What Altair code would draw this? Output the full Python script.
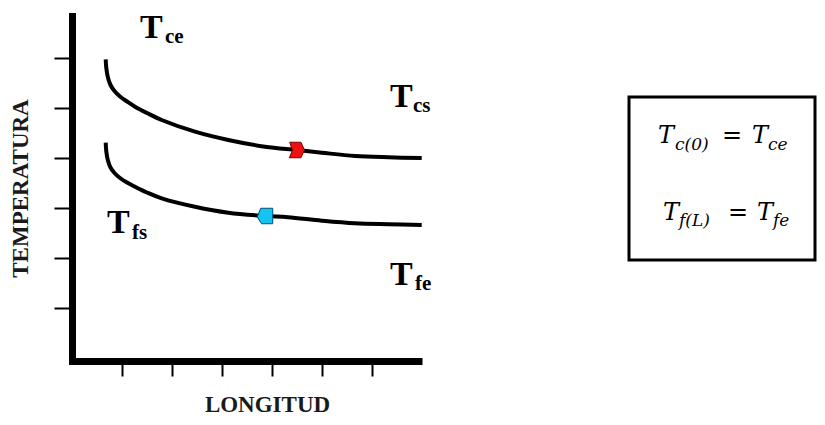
import altair as alt
import pandas as pd

# ---- data ----
x_caliente = [0.674, 0.686, 0.716, 0.77, 0.85, 0.96, 1.10, 1.26, 1.50, 1.794, 2.46, 3.126, 3.86, 4.494, 4.994, 5.66, 6.326, 6.994]
t_caliente = [5.974, 5.80, 5.62, 5.46, 5.34, 5.23, 5.13, 5.026, 4.90, 4.76, 4.526, 4.36, 4.226, 4.16, 4.106, 4.04, 4.014, 4.0]
x_frio = [0.674, 0.686, 0.716, 0.77, 0.85, 0.96, 1.10, 1.26, 1.50, 1.794, 2.46, 3.126, 3.86, 4.32, 4.994, 5.66, 6.326, 6.994]
t_frio = [4.306, 4.13, 3.96, 3.81, 3.70, 3.60, 3.51, 3.426, 3.31, 3.194, 3.026, 2.906, 2.84, 2.814, 2.746, 2.694, 2.674, 2.66]

marker_series = ["caliente", "frio"]
marker_x = [4.494, 3.86]
marker_y = [4.16, 2.84]

label_main = ["T", "T", "T", "T"]
label_sub = ["ce", "cs", "fs", "fe"]
label_x = [1.36, 6.36, 0.70, 6.36]
label_y = [6.40, 5.02, 2.50, 1.46]
sub_x = [1.86, 6.82, 1.20, 6.86]
sub_y = [6.30, 4.92, 2.38, 1.36]

tick_values = [1, 2, 3, 4, 5, 6]

eq1 = ["T", "c(0)", "=", "T", "ce"]
eq2 = ["T", "f(L)", "=", "T", "fe"]

# ---- tables ----
curves = pd.concat([
    pd.DataFrame({"x": x_caliente, "y": t_caliente, "serie": "caliente"}),
    pd.DataFrame({"x": x_frio, "y": t_frio, "serie": "frio"}),
])
markers = pd.DataFrame({"x": marker_x, "y": marker_y, "serie": marker_series})
labels = pd.DataFrame({"x": label_x, "y": label_y, "t": label_main})
subs = pd.DataFrame({"x": sub_x, "y": sub_y, "t": label_sub})
one = pd.DataFrame({"a": [0]})

SERIF = "Liberation Serif"

xscale = alt.Scale(domain=[0, 7], nice=False, zero=False)
yscale = alt.Scale(domain=[-0.06, 6.84], nice=False, zero=False)

xaxis = alt.Axis(values=tick_values, labels=False, grid=False, domainWidth=7,
                 domainColor="black", tickSize=15, tickWidth=2, tickColor="black",
                 title="LONGITUD", titleFont=SERIF, titleFontSize=23,
                 titleFontWeight="bold", titleColor="#1a1a1a", titleX=195,
                 titleY=50, titleAlign="center", titleBaseline="alphabetic")
yaxis = alt.Axis(values=tick_values, labels=False, grid=False, domainWidth=7,
                 domainColor="black", domainCap="square", tickSize=18, tickWidth=2,
                 tickColor="black", title="TEMPERATURA", titleFont=SERIF,
                 titleFontSize=23, titleFontWeight="bold", titleColor="#1a1a1a",
                 titleAngle=270, titleX=-45, titleY=172, titleAlign="center",
                 titleBaseline="alphabetic")

lines = alt.Chart(curves).mark_line(color="black", strokeWidth=4,
                                    interpolate="catmull-rom").encode(
    x=alt.X("x:Q", scale=xscale, axis=xaxis),
    y=alt.Y("y:Q", scale=yscale, axis=yaxis),
    detail="serie:N",
)

red_path = "M-0.9,-1 L0.55,-1 L1,0 L0.55,1 L-0.95,1 L-0.55,0.05 Z"
blue_path = "M-1,0.1 L-0.55,-1 L1,-1 L1,1 L-0.45,1 Z"

pts = alt.Chart(markers).mark_point(filled=True, size=240, strokeWidth=1,
                                    opacity=1).encode(
    x=alt.X("x:Q", scale=xscale),
    y=alt.Y("y:Q", scale=yscale),
    shape=alt.Shape("serie:N", scale=alt.Scale(domain=marker_series,
                                               range=[red_path, blue_path]), legend=None),
    fill=alt.Fill("serie:N", scale=alt.Scale(domain=marker_series,
                                             range=["#ee1111", "#14c3f2"]), legend=None),
    stroke=alt.Stroke("serie:N", scale=alt.Scale(domain=marker_series,
                                                 range=["#7a0000", "#005070"]), legend=None),
)

main_txt = alt.Chart(labels).mark_text(font=SERIF, fontWeight="bold", fontSize=34,
                                       align="left", baseline="alphabetic",
                                       color="black").encode(
    x=alt.X("x:Q", scale=xscale), y=alt.Y("y:Q", scale=yscale), text="t:N")
sub_txt = alt.Chart(subs).mark_text(font=SERIF, fontWeight="bold", fontSize=21,
                                    align="left", baseline="alphabetic",
                                    color="black").encode(
    x=alt.X("x:Q", scale=xscale), y=alt.Y("y:Q", scale=yscale), text="t:N")

box = alt.Chart(one).mark_rect(fill="white", fillOpacity=0, stroke="black",
                               strokeWidth=3).encode(
    x=alt.value(557), x2=alt.value(743), y=alt.value(81), y2=alt.value(244))

# equation pieces: (x, baseline y, size, italic)
eq_layout1 = [(586, 127, 24, True), (603, 134, 17, True), (650, 127, 24, False),
              (680, 127, 24, True), (696, 134, 17, True)]
eq_layout2 = [(591, 204, 24, True), (607, 210, 17, True), (656, 204, 24, False),
              (685, 204, 24, True), (701, 210, 17, True)]

eq_layers = []
for texts, layout in ((eq1, eq_layout1), (eq2, eq_layout2)):
    for txt, (px, py, fs, it) in zip(texts, layout):
        eq_layers.append(
            alt.Chart(one).mark_text(font="DejaVu Serif",
                                     fontStyle="italic" if it else "normal",
                                     fontSize=fs, align="left", baseline="alphabetic",
                                     color="black").encode(
                x=alt.value(px), y=alt.value(py), text=alt.value(txt))
        )

chart = alt.layer(lines, pts, main_txt, sub_txt, box, *eq_layers).properties(
    width=350, height=345,
    autosize=alt.AutoSizeParams(type="none"),
    padding={"left": 64, "top": 8, "right": 395, "bottom": 56},
    background="white",
).configure_view(stroke=None)

chart.save("out.html", embed_options={"renderer": "svg", "actions": False})
